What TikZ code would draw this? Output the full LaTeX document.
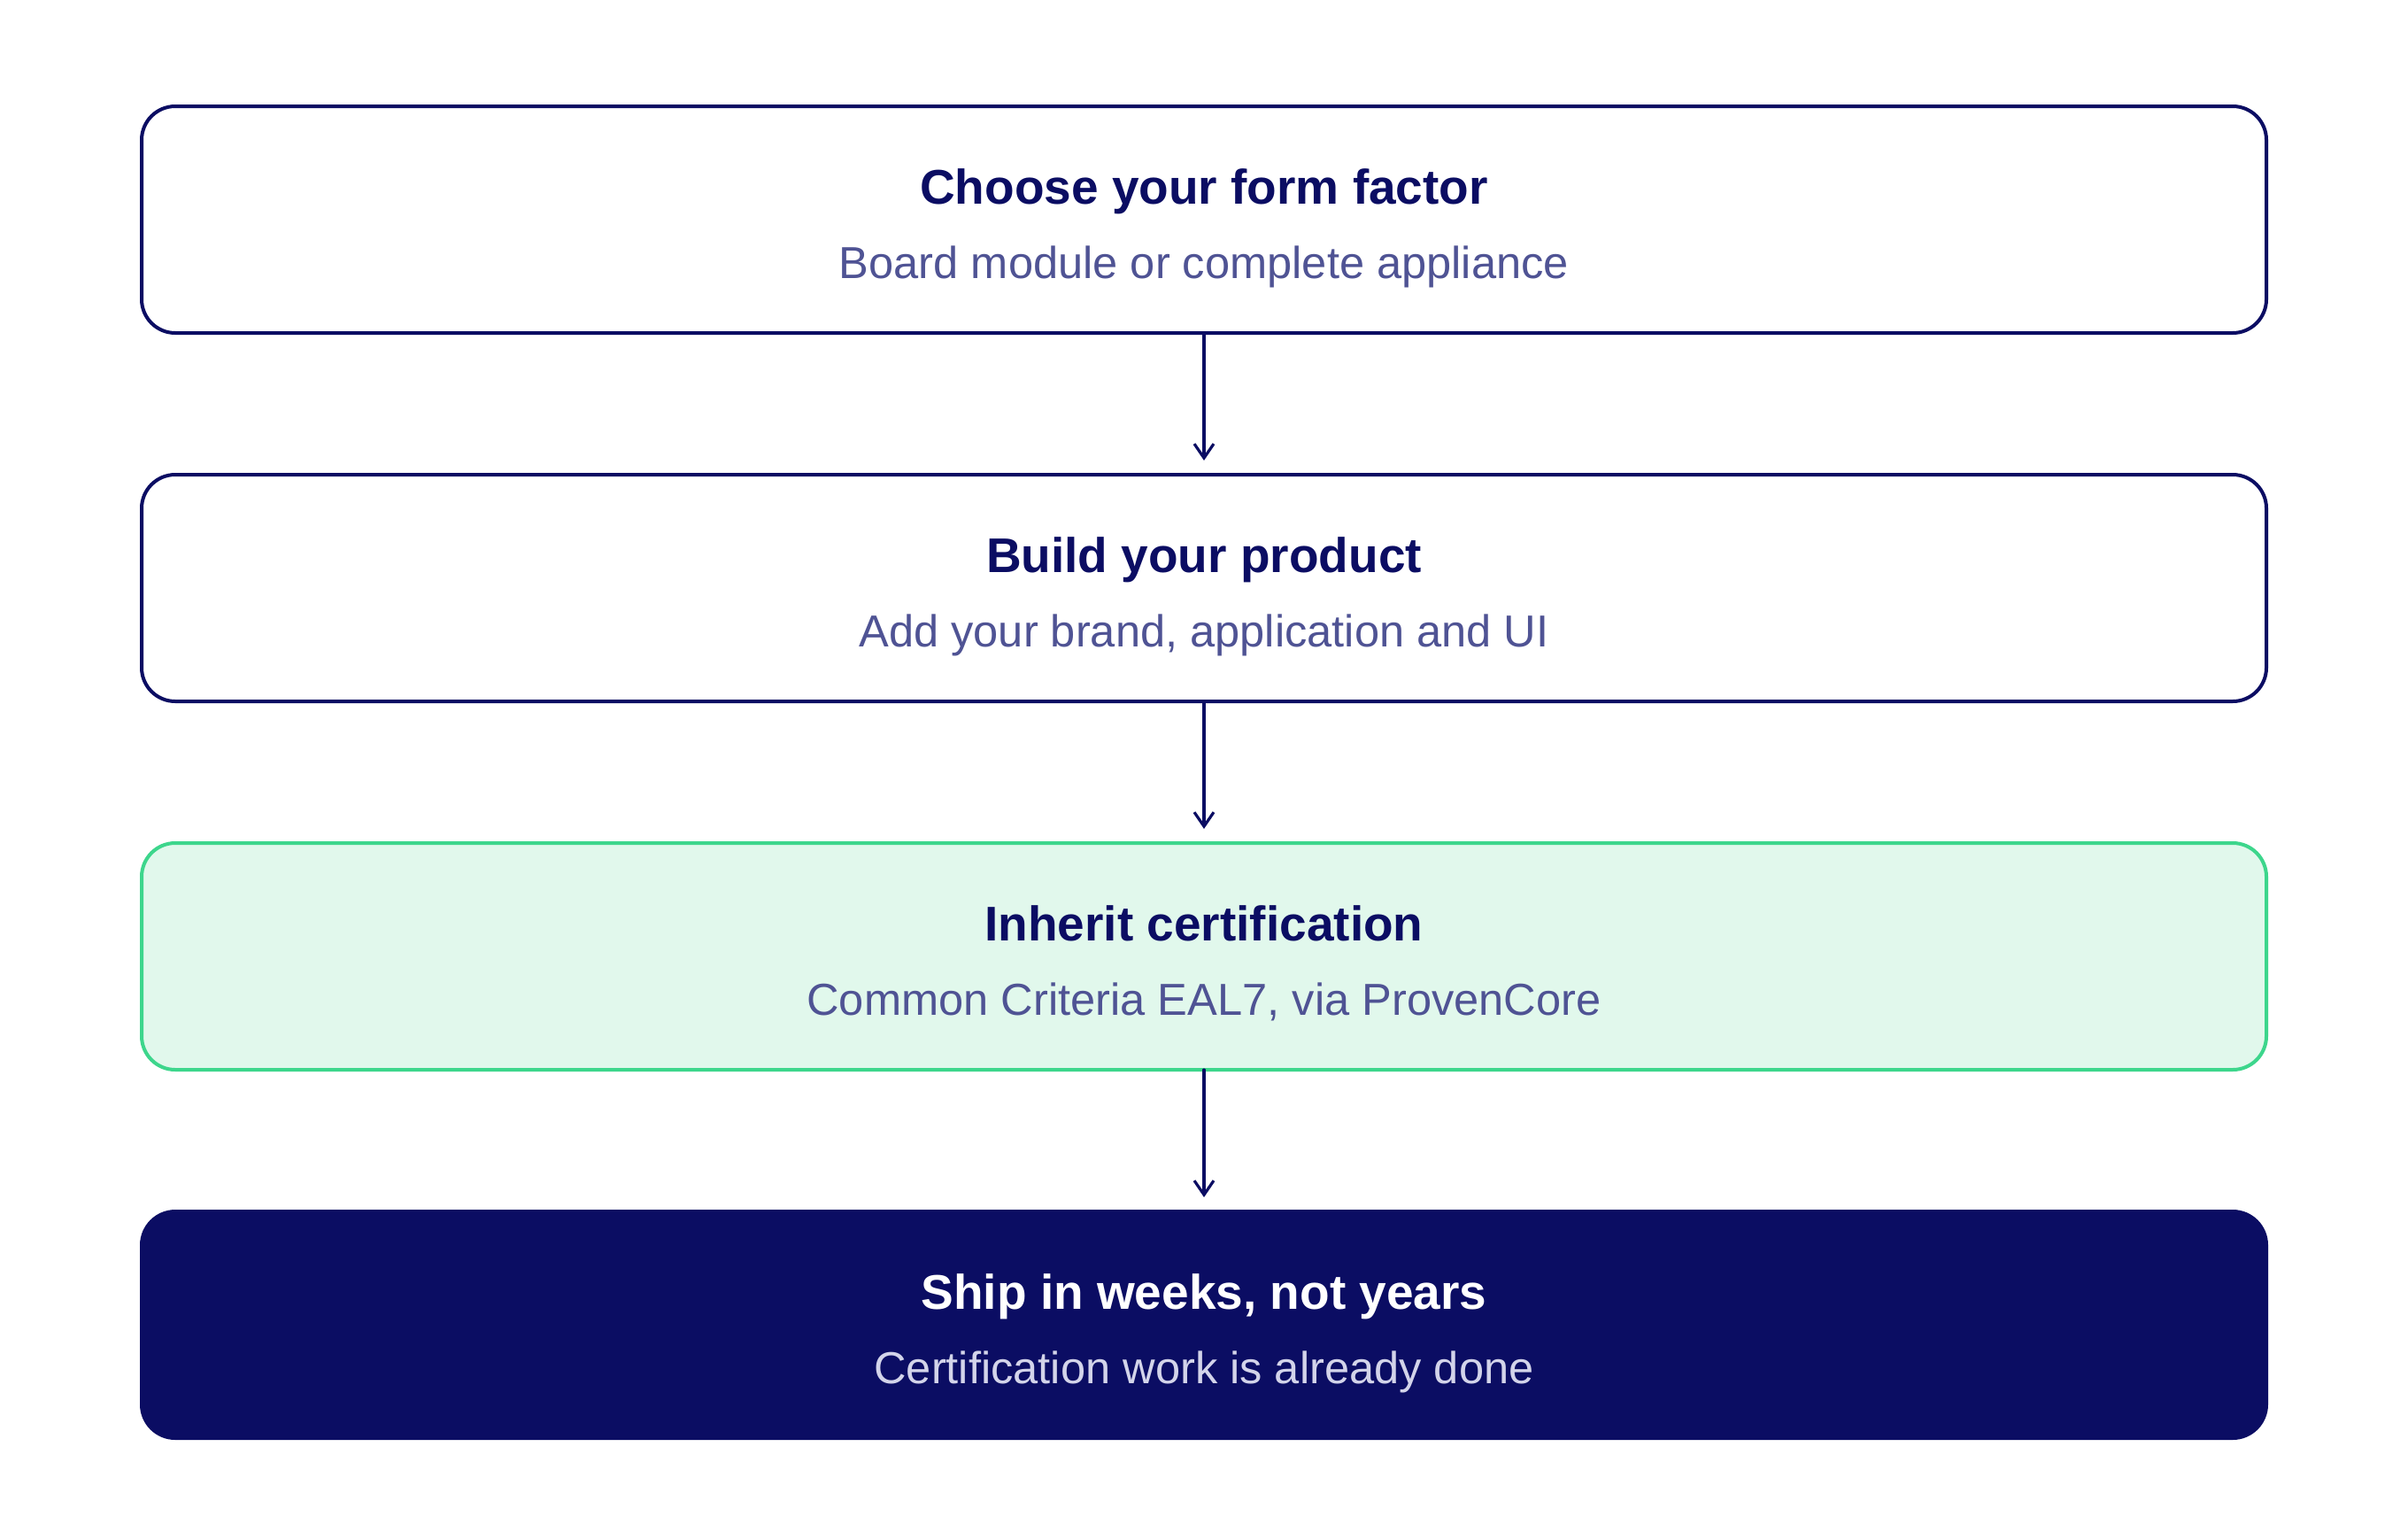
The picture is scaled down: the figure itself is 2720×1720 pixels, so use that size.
\documentclass[tikz,border=0pt]{standalone}
\usepackage{fontspec}
\setmainfont{Liberation Sans}
\usetikzlibrary{arrows.meta}
\definecolor{navy}{HTML}{0B0D63}
\definecolor{subcol}{HTML}{4F5394}
\definecolor{greenline}{HTML}{3DD68C}
\definecolor{greenfill}{HTML}{E1F8EC}
\definecolor{lightsub}{HTML}{D3D4EA}
\begin{document}
\begin{tikzpicture}[x=0.5pt,y=-0.5pt,
  stagebox/.style={rounded corners=19pt, minimum width=1200pt, minimum height=128pt, line width=2pt, inner sep=0pt, outer sep=0pt},
  plainbox/.style={stagebox, draw=navy, fill=white},
  greenbox/.style={stagebox, draw=greenline, fill=greenfill},
  darkbox/.style={stagebox, draw=navy, fill=navy},
  titletext/.style={anchor=base, font=\fontsize{27.5pt}{33pt}\selectfont\bfseries, text=navy, inner sep=0pt},
  subtext/.style={anchor=base, font=\fontsize{25.3pt}{30pt}\selectfont, text=subcol, inner sep=0pt},
  flow/.style={draw=navy, line width=1.6pt, line cap=round, -{Straight Barb[length=8pt,width=11pt,line width=1.6pt]}, shorten >=8pt}
]
\useasboundingbox (0,0) rectangle (2720,1720);
\fill[white] (0,0) rectangle (2720,1720);

\node[plainbox] (b1) at (1360,248) {};
\node[plainbox] (b2) at (1360,664) {};
\node[greenbox] (b3) at (1360,1080) {};
\node[darkbox] (b4) at (1360,1496) {};

\node[titletext] (t1) at ([yshift=9pt]b1.center) {Choose your form factor};
\node[subtext] (s1) at ([yshift=-33pt]b1.center) {Board module or complete appliance};
\node[titletext] (t2) at ([yshift=9pt]b2.center) {Build your product};
\node[subtext] (s2) at ([yshift=-33pt]b2.center) {Add your brand, application and UI};
\node[titletext] (t3) at ([yshift=9pt]b3.center) {Inherit certification};
\node[subtext] (s3) at ([yshift=-33pt]b3.center) {Common Criteria EAL7, via ProvenCore};
\node[titletext, text=white] (t4) at ([yshift=9pt]b4.center) {Ship in weeks, not years};
\node[subtext, text=lightsub] (s4) at ([yshift=-33pt]b4.center) {Certification work is already done};

\draw[flow] (b1.south) -- (b2.north);
\draw[flow] (b2.south) -- (b3.north);
\draw[flow] (b3.south) -- (b4.north);
\end{tikzpicture}
\end{document}
